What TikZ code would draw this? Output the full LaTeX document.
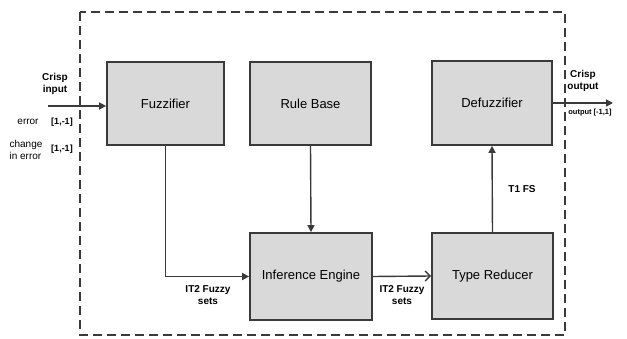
\documentclass[tikz,border=0pt]{standalone}
\usepackage{fontspec}
\setmainfont{Liberation Sans}
\usetikzlibrary{arrows.meta}
\definecolor{boxfill}{HTML}{D9D9D9}
\definecolor{edge}{HTML}{3A3A3A}
\begin{document}
\begin{tikzpicture}[x=1pt,y=-1pt,
  blk/.style={draw=edge,line width=1.7pt,fill=boxfill,font=\fontsize{13}{15}\selectfont},
  conn/.style={draw=edge,line width=1.4pt,-{Triangle[length=7pt,width=7pt]}},
  openconn/.style={draw=edge,line width=1.4pt,-{Straight Barb[length=5pt,width=10pt]}},
  lbl/.style={font=\bfseries\fontsize{10}{12}\selectfont,align=center,inner sep=0pt},
  small/.style={font=\fontsize{10}{12}\selectfont,align=left,inner sep=0pt}]
\useasboundingbox (0,0) rectangle (627,339);
% dashed frame
\draw[edge,line width=1.4pt,dash pattern=on 9pt off 5pt] (80,12) rectangle (565,335);
% blocks
\node[blk,minimum width=117pt,minimum height=83pt] (fuz) at (165.5,103.5) {Fuzzifier};
\node[blk,minimum width=121pt,minimum height=83pt] (rule) at (310.5,103.5) {Rule Base};
\node[blk,minimum width=120pt,minimum height=84pt] (defuz) at (492,103) {Defuzzifier};
\node[blk,minimum width=122pt,minimum height=87pt] (inf) at (311,276.5) {Inference Engine};
\node[blk,minimum width=121pt,minimum height=86pt] (tr) at (492.5,276) {Type Reducer};
% inputs
\coordinate (in) at (48,106);
\draw[conn] (in) -- (fuz.west |- in);
\node[lbl] (crispin) at (55,84) {Crisp\\input};
\node[small] (err) at (28,122) {error};
\node[lbl,font=\bfseries\fontsize{9}{10.5}\selectfont] (errr) at (62,122) {[1,-1]};
\node[small] (cerr) at (26,149.5) {change\\in error};
\node[lbl,font=\bfseries\fontsize{9}{10.5}\selectfont] (cerrr) at (62,149) {[1,-1]};
% connectors
\draw[conn] (fuz.south) |- (inf.west);
\node[lbl] (it2a) at (208,295) {IT2 Fuzzy\\sets};
\draw[conn] (rule.south) -- (inf.north);
\draw[openconn] (inf.east) -- (tr.west);
\node[lbl] (it2b) at (402,295) {IT2 Fuzzy\\sets};
\draw[conn] (tr.north) -- (defuz.south);
\node[lbl] (t1) at (522,189) {T1 FS};
% output
\coordinate (out) at (613,103);
\draw[conn] (defuz.east) -- (out);
\node[lbl] (crispout) at (583,81) {Crisp\\output};
\node[lbl,font=\bfseries\fontsize{7.5}{9}\selectfont] (outr) at (590,113) {output [-1,1]};
\end{tikzpicture}
\end{document}
